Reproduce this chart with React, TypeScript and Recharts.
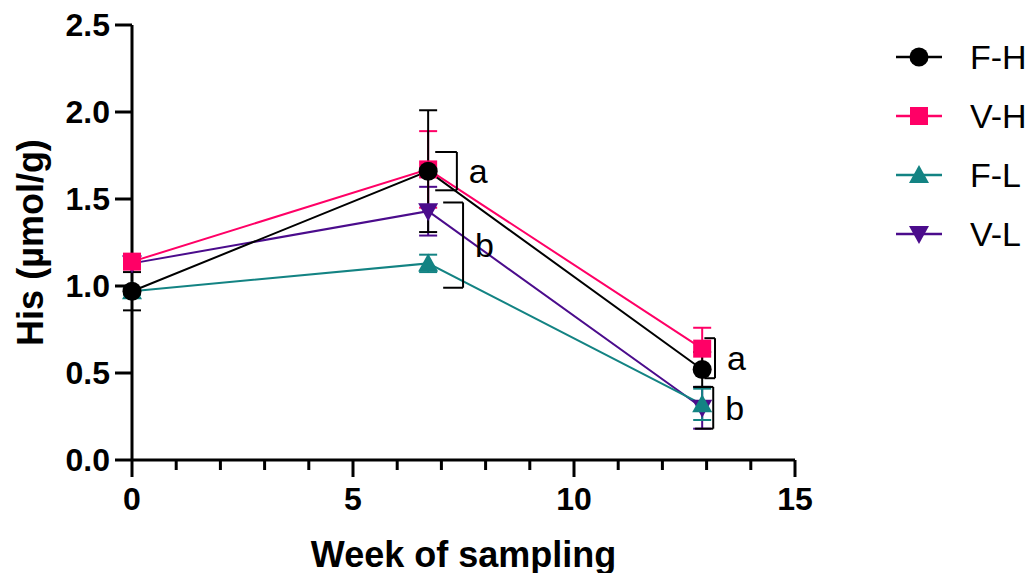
import React from 'react';
import { LineChart, Line, XAxis, YAxis, ErrorBar, ReferenceLine, Label } from 'recharts';

const weeks = [0, 6.7, 12.9];
const fhMean = [0.97, 1.66, 0.52];
const fhErr = [0.11, 0.35, 0.1];
const vhMean = [1.14, 1.67, 0.64];
const vhErr = [0.03, 0.22, 0.12];
const flMean = [0.97, 1.13, 0.32];
const flErr = [0.02, 0.05, 0.09];
const vlMean = [1.13, 1.43, 0.3];
const vlErr = [0.02, 0.14, 0.12];

const xTicks = [0, 1, 2, 3, 4, 5, 6, 7, 8, 9, 10, 11, 12, 13, 14, 15];
const yTicks = [0, 0.5, 1, 1.5, 2, 2.5];

// significance brackets: x from/to, y top/bottom, letter
const brackets = [
  { x0: 6.86, x1: 7.35, top: 1.77, bottom: 1.55, label: 'a' },
  { x0: 7.04, x1: 7.49, top: 1.48, bottom: 0.99, label: 'b' },
  { x0: 12.95, x1: 13.19, top: 0.7, bottom: 0.47, label: 'a' },
  { x0: 12.74, x1: 13.15, top: 0.42, bottom: 0.18, label: 'b' },
];

const rows = (mean: number[], err: number[]) =>
  weeks.map((w, i) => ({ week: w, value: mean[i], err: err[i] }));

const FONT = '"Liberation Sans", Arial, sans-serif';

type Shape = 'circle' | 'square' | 'up' | 'down';

const series = [
  { name: 'V-L', color: '#4B0C8C', shape: 'down' as Shape, data: rows(vlMean, vlErr) },
  { name: 'F-L', color: '#138383', shape: 'up' as Shape, data: rows(flMean, flErr) },
  { name: 'V-H', color: '#FF0066', shape: 'square' as Shape, data: rows(vhMean, vhErr) },
  { name: 'F-H', color: '#000000', shape: 'circle' as Shape, data: rows(fhMean, fhErr) },
];
const legendOrder = ['F-H', 'V-H', 'F-L', 'V-L'];

function marker(shape: Shape, cx: number, cy: number, color: string, key?: any) {
  if (shape === 'circle') return <circle key={key} cx={cx} cy={cy} r={9.5} fill={color} />;
  if (shape === 'square') return <rect key={key} x={cx - 9} y={cy - 9} width={18} height={18} fill={color} />;
  if (shape === 'up')
    return <polygon key={key} points={`${cx},${cy - 10} ${cx + 10},${cy + 8} ${cx - 10},${cy + 8}`} fill={color} />;
  return <polygon key={key} points={`${cx - 10},${cy - 8} ${cx + 10},${cy - 8} ${cx},${cy + 10}`} fill={color} />;
}

const XTick = (props: any) => {
  const { x, y, payload } = props;
  const major = payload.value % 5 === 0;
  return (
    <g>
      <line x1={x} x2={x} y1={y} y2={y + (major ? 17 : 10)} stroke="#000" strokeWidth={3} />
      {major && (
        <text x={x} y={y + 50} textAnchor="middle" fontSize={32} fontWeight="bold" fontFamily={FONT} fill="#000">
          {payload.value}
        </text>
      )}
    </g>
  );
};

export default function App() {
  return (
    <div style={{ position: 'absolute', left: 0, top: 0, width: 1030, height: 573, background: '#fff' }}>
      <LineChart width={1030} height={573} margin={{ top: 25, right: 235, bottom: 0, left: 0 }}>
        <XAxis
          type="number"
          dataKey="week"
          domain={[0, 15]}
          ticks={xTicks}
          interval={0}
          tick={<XTick />}
          tickLine={false}
          tickSize={0}
          tickMargin={0}
          height={113}
          axisLine={{ stroke: '#000', strokeWidth: 3 }}
          allowDuplicatedCategory={false}
        >
          <Label
            value="Week of sampling"
            position="insideBottom"
            offset={6}
            style={{ fontSize: 36, fontWeight: 'bold', fontFamily: FONT, fill: '#000' }}
          />
        </XAxis>
        <YAxis
          type="number"
          domain={[0, 2.5]}
          ticks={yTicks}
          width={132}
          tickFormatter={(v: number) => v.toFixed(1)}
          tickSize={17}
          tickMargin={5}
          tickLine={{ stroke: '#000', strokeWidth: 3 }}
          axisLine={{ stroke: '#000', strokeWidth: 3 }}
          tick={{ fontSize: 32, fontWeight: 'bold', fontFamily: FONT, fill: '#000' }}
        >
          <Label
            value="His (µmol/g)"
            angle={-90}
            position="insideLeft"
            offset={30}
            style={{ fontSize: 36, fontWeight: 'bold', fontFamily: FONT, fill: '#000', textAnchor: 'middle' }}
          />
        </YAxis>
        {series.map((s) => (
          <Line
            key={s.name}
            data={s.data}
            dataKey="value"
            name={s.name}
            stroke={s.color}
            strokeWidth={2}
            isAnimationActive={false}
            dot={(p: any) => marker(s.shape, p.cx, p.cy, s.color, p.index)}
            activeDot={false}
          >
            <ErrorBar dataKey="err" direction="y" width={9} stroke={s.color} strokeWidth={2} isAnimationActive={false} />
          </Line>
        ))}
        {brackets.map((b, i) => [
          <ReferenceLine key={`t${i}`} segment={[{ x: b.x0, y: b.top }, { x: b.x1, y: b.top }]} stroke="#000" strokeWidth={2} ifOverflow="visible" />,
          <ReferenceLine key={`b${i}`} segment={[{ x: b.x0, y: b.bottom }, { x: b.x1, y: b.bottom }]} stroke="#000" strokeWidth={2} ifOverflow="visible" />,
          <ReferenceLine key={`v${i}`} segment={[{ x: b.x1, y: b.top }, { x: b.x1, y: b.bottom }]} stroke="#000" strokeWidth={2} ifOverflow="visible">
            <Label value={b.label} position="right" offset={12} style={{ fontSize: 34, fontFamily: FONT, fill: '#000' }} />
          </ReferenceLine>,
        ])}
      </LineChart>
      <div style={{ position: 'absolute', left: 894, top: 27, fontFamily: FONT }}>
        {legendOrder.map((n) => {
          const s = series.find((q) => q.name === n)!;
          return (
            <div key={n} style={{ display: 'flex', alignItems: 'center', height: 59 }}>
              <svg width={50} height={30}>
                <line x1={2} x2={48} y1={15} y2={15} stroke={s.color} strokeWidth={2.5} />
                {marker(s.shape, 25, 15, s.color)}
              </svg>
              <span style={{ fontSize: 34, marginLeft: 26, color: '#000', lineHeight: 1 }}>{n}</span>
            </div>
          );
        })}
      </div>
    </div>
  );
}
